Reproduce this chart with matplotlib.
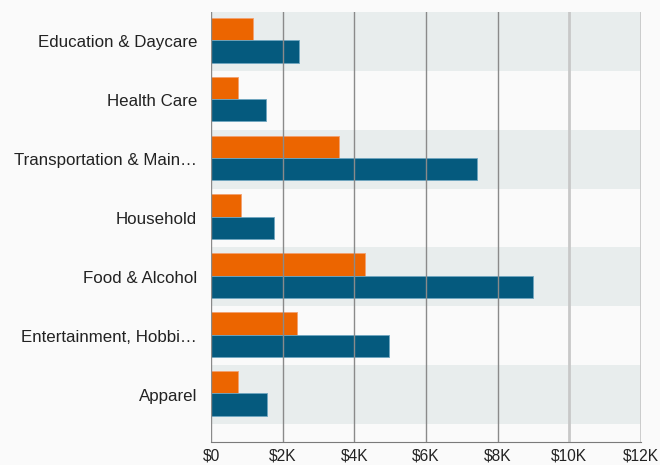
import matplotlib
matplotlib.use("Agg")
import matplotlib.pyplot as plt
from matplotlib.ticker import FuncFormatter

categories = ["Education & Daycare", "Health Care", "Transportation & Main\u2026",
              "Household", "Food & Alcohol", "Entertainment, Hobbi\u2026", "Apparel"]
series_orange = [1170, 750, 3580, 840, 4300, 2400, 750]
series_blue = [2460, 1540, 7430, 1760, 8990, 4970, 1560]
xticks = [0, 2000, 4000, 6000, 8000, 10000, 12000]

plt.rcParams['font.family'] = ['Liberation Sans', 'DejaVu Sans']
fig = plt.figure(figsize=(6.6, 4.65), dpi=100, facecolor='#fafafa')
ax = fig.add_axes([211/660, 1-442/465, 430/660, 430/465])
ax.set_facecolor('#fafafa')

n = len(categories)
for i in range(n):
    if i % 2 == 0:
        ax.axhspan(i-0.5, i+0.5, color='#e8eded', zorder=0, lw=0)

h = 0.38
ys = list(range(n))
ax.barh([y - h/2 - 0.02 for y in ys], series_orange, height=h, color='#ec6500',
        edgecolor='#f3a070', linewidth=0.6, zorder=2)
ax.barh([y + h/2 - 0.02 for y in ys], series_blue, height=h, color='#055a7e',
        edgecolor='#6fa6c0', linewidth=0.6, zorder=2)

ax.set_xlim(0, 12000)
ax.set_ylim(n - 0.5 + 18/58.86, -0.5)
ax.set_xticks(xticks)
ax.xaxis.set_major_formatter(FuncFormatter(lambda v, p: "$0" if v == 0 else f"${int(v/1000)}K"))
for x in xticks[1:]:
    c = '#c8c8c8' if x >= 10000 else '#8a8a8a'
    lw = 2 if x >= 10000 else 1
    ax.axvline(x, color=c, lw=lw, zorder=3)
ax.axvline(0, color='#8a8a8a', lw=1, zorder=3)
ax.set_yticks(ys)
ax.set_yticklabels(categories)
ax.tick_params(axis='y', length=0, pad=10, labelsize=12.2, labelcolor='#222222')
ax.tick_params(axis='x', length=0, pad=4.5, labelsize=11.2, labelcolor='#222222')
for s in ['top', 'right', 'left']:
    ax.spines[s].set_visible(False)
ax.spines['bottom'].set_color('#7a7a7a')
ax.spines['bottom'].set_zorder(4)

fig.savefig("out.png", dpi=100, facecolor=fig.get_facecolor())
